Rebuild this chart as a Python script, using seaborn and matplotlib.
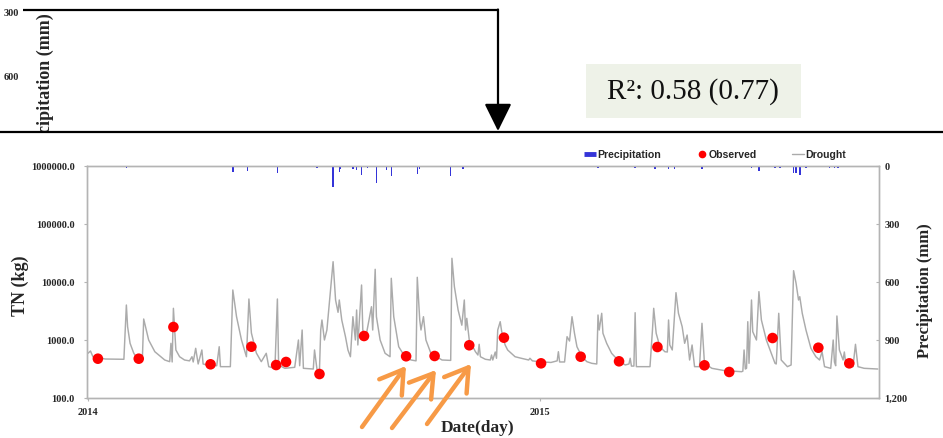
import numpy as np
import pandas as pd
import matplotlib
matplotlib.use("Agg")
import matplotlib.pyplot as plt
import seaborn as sns
from matplotlib.lines import Line2D
from matplotlib.patches import Rectangle
from matplotlib.ticker import FixedLocator, FuncFormatter, NullLocator

sns.set_theme(style="white")
plt.rcParams["font.family"] = ["Liberation Serif", "DejaVu Serif"]
plt.rcParams["font.weight"] = "bold"

START = pd.Timestamp("2014-01-01")

# Simulated TN load under the drought scenario (day offset from 2014-01-01, kg)
sim_day = [0, 2, 4, 14, 29, 31, 32, 34, 37, 39, 42, 44, 45, 49, 54, 62, 66, 67, 68, 69,
           71, 74, 78, 82, 84, 85, 87, 89, 92, 93, 96, 104, 106, 107, 115, 117, 120, 124,
           128, 130, 132, 136, 140, 144, 146, 151, 153, 154, 159, 167, 170, 171, 173, 174,
           182, 183, 185, 187, 188, 189, 191, 193, 198, 200, 202, 203, 205, 208, 210, 212,
           214, 216, 217, 218, 221, 222, 224, 227, 229, 230, 232, 233, 236, 240, 244, 245,
           247, 251, 256, 261, 265, 266, 268, 269, 271, 273, 277, 286, 293, 294, 296, 299,
           302, 304, 305, 306, 308, 313, 315, 316, 317, 321, 325, 326, 327, 329, 330, 331,
           333, 334, 335, 337, 339, 345, 350, 356, 357, 359, 364, 374, 379, 380, 381, 385,
           387, 389, 391, 393, 395, 399, 403, 407, 411, 412, 413, 415, 416, 419, 423, 428,
           434, 437, 438, 439, 441, 442, 443, 454, 456, 457, 459, 462, 466, 468, 469, 470,
           472, 475, 477, 480, 482, 484, 486, 488, 490, 494, 496, 498, 504, 514, 528, 529,
           530, 531, 532, 533, 534, 536, 537, 540, 542, 544, 548, 552, 555, 556, 558, 560,
           565, 568, 570, 572, 574, 575, 577, 580, 584, 588, 591, 593, 595, 600, 602, 603,
           604, 605, 607, 610, 611, 612, 614, 618, 620, 622, 627, 638]
sim_tn = [590, 646, 515, 470, 465, 4010, 1695, 877, 590, 509, 509, 530, 2301, 1000, 628, 452,
          423, 877, 418, 3520, 673, 515, 452, 437, 515, 418, 719, 386, 673, 386, 371, 360, 766,
          347, 347, 7279, 2523, 1000, 515, 5093, 1321, 597, 423, 590, 347, 325, 5093, 371, 325,
          338, 1000, 360, 1487, 325, 316, 673, 310, 308, 1487, 2213, 1000, 1487, 22390, 4894,
          3000, 4894, 2213, 1140, 673, 515, 2523, 1000, 3289, 820, 8874, 1487, 1000, 2213, 3750,
          1487, 16560, 2523, 1000, 590, 515, 11590, 2523, 766, 515, 452, 437, 12050, 2213, 1487,
          2523, 1000, 590, 452, 445, 25620, 8299, 3289, 1800, 4894, 1487, 2366, 1000, 628, 551,
          843, 515, 465, 452, 551, 452, 621, 484, 1487, 2069, 1487, 1140, 820, 673, 515, 484,
          452, 484, 437, 423, 410, 437, 628, 418, 418, 1140, 960, 2523, 1306, 766, 515, 423,
          396, 386, 2698, 1487, 2886, 1306, 877, 590, 452, 371, 386, 484, 355, 355, 2956, 347,
          347, 1487, 3520, 1306, 766, 628, 621, 2213, 820, 673, 6549, 2886, 1695, 877, 1219,
          452, 820, 347, 347, 1940, 396, 325, 297, 284, 290, 673, 316, 325, 2069, 396, 4894,
          1390, 1000, 6814, 2213, 1000, 590, 396, 386, 2886, 452, 347, 371, 15670, 9500, 4894,
          5583, 2886, 1487, 719, 515, 452, 628, 347, 325, 1000, 418, 360, 2594, 673, 452, 621,
          418, 396, 347, 843, 347, 325, 316]

# Observed TN samples (day offset, kg)
obs_day = [8, 41, 69, 99, 132, 152, 160, 187, 223, 257, 280, 308, 336, 366, 398, 429,
           460, 498, 518, 553, 590, 615]
obs_tn = [476, 476, 1675, 381, 766, 370, 418, 259, 1172, 524, 530, 811, 1096, 396, 515,
          429, 757, 366, 281, 1082, 736, 396]

# Daily precipitation (day offset, mm)
rain_day = [18, 31, 38, 66, 72, 80, 90, 97, 105, 117, 129, 145, 153, 171, 175, 180, 185,
            198, 203, 204, 214, 217, 221, 226, 233, 241, 245, 266, 268, 293, 303, 313, 317,
            325, 330, 335, 341, 349, 357, 365, 373, 381, 389, 397, 405, 412, 417, 426, 442,
            446, 458, 463, 469, 474, 482, 496, 510, 531, 533, 536, 542, 555, 559, 570, 572,
            575, 580, 587, 592, 599, 603, 606, 614, 619, 626]
rain_mm = [5, 8, 5, 6, 4, 5, 4, 5, 4, 29, 24, 6, 38, 6, 6, 5, 8,
           108, 31, 15, 14, 19, 47, 10, 86, 22, 52, 40, 15, 52, 14, 5, 4,
           5, 6, 4, 5, 4, 5, 4, 4, 5, 4, 6, 4, 9, 5, 4, 12,
           5, 17, 6, 15, 15, 6, 17, 4, 5, 6, 8, 24, 8, 10, 38, 38,
           47, 8, 6, 7, 8, 10, 9, 6, 5, 5]

tn_ticks = [100, 1000, 10000, 100000, 1000000]
rain_ticks = [0, 300, 600, 900, 1200]
rain_tick_labels = ["0", "300", "600", "900", "1,200"]
year_ticks = ["2014-01-01", "2015-01-01"]
year_labels = ["2014", "2015"]
prev_rain_ticks = ["300", "600"]
prev_rain_title = "cipitation (mm)"
r2_label = "R\u00b2: 0.58 (0.77)"

sim = pd.DataFrame({"date": START + pd.to_timedelta(sim_day, unit="D"), "TN": sim_tn})
obs = pd.DataFrame({"date": START + pd.to_timedelta(obs_day, unit="D"), "TN": obs_tn})
rain = pd.DataFrame({"date": START + pd.to_timedelta(rain_day, unit="D"), "mm": rain_mm})

W, H = 943, 438
fig = plt.figure(figsize=(W / 100, H / 100), dpi=100)
fig.patch.set_facecolor("white")

ax = fig.add_axes([87 / W, 1 - 398 / H, (879 - 87) / W, (398 - 166) / H])
ax.set_facecolor("white")

SPINE = "#b4b4b4"
LINE_GRAY = "#ababab"
RAIN_BLUE = "#3434d8"

sns.lineplot(data=sim, x="date", y="TN", ax=ax, color=LINE_GRAY, lw=1.05, legend=False)
sns.scatterplot(data=obs, x="date", y="TN", ax=ax, color="#ff0000", s=58,
                edgecolor="none", zorder=4, legend=False)

ax.set_yscale("log")
ax.set_ylim(100, 1e6)
ax.yaxis.set_major_locator(FixedLocator(tn_ticks))
ax.yaxis.set_minor_locator(NullLocator())
ax.yaxis.set_major_formatter(FuncFormatter(lambda v, p: f"{v:.1f}"))
ax.set_xlim(START - pd.Timedelta(days=0.8), START + pd.Timedelta(days=639))
ax.set_xticks(pd.to_datetime(year_ticks))
ax.set_xticklabels(year_labels)
ax.set_xlabel("")
ax.set_ylabel("")
ax.tick_params(axis="y", which="major", left=True, length=2.5, width=0.8, color=SPINE,
               direction="out", labelsize=7.5, pad=6.5)
ax.tick_params(axis="x", which="major", bottom=True, length=2.5, width=0.8, color=SPINE,
               direction="out", labelsize=7.5, pad=5)

ax2 = ax.twinx()
ax2.bar(rain["date"], rain["mm"], width=1.2, color=RAIN_BLUE, linewidth=0, align="center")
ax2.set_ylim(1200, 0)
ax2.yaxis.set_major_locator(FixedLocator(rain_ticks))
ax2.set_yticklabels(rain_tick_labels)
ax2.set_ylabel("")
ax2.tick_params(axis="y", which="major", right=True, length=2.5, width=0.8, color=SPINE,
                direction="in", labelsize=7.5, pad=4)
ax2.grid(False)
ax.grid(False)

for a in (ax, ax2):
    for sp in a.spines.values():
        sp.set_color(SPINE)
        sp.set_linewidth(1.0)
        sp.set_visible(True)

# axis titles
fig.text(20 / W, 1 - 286 / H, "TN (kg)", rotation=90, ha="center", va="center",
         fontsize=13, weight="bold")
fig.text(925 / W, 1 - 291 / H, "Precipitation (mm)", rotation=90, ha="center",
         va="center", fontsize=12, weight="bold")
fig.text(478 / W, 1 - 428 / H, "Date(day)", ha="center", va="center",
         fontsize=12.5, weight="bold")

# legend row above the plot
handles = [
    Line2D([], [], color=RAIN_BLUE, lw=3.5, solid_capstyle="butt"),
    Line2D([], [], color="#ff0000", marker="o", markersize=4.5, lw=0),
    Line2D([], [], color=LINE_GRAY, lw=1.0),
]
fig.legend(handles, ["Precipitation", "Observed", "Drought"], loc="center",
           bbox_to_anchor=(715 / W, 1 - 155 / H), ncol=3, frameon=False,
           handlelength=1.1, handletextpad=0.15, columnspacing=3.3,
           prop={"family": "Liberation Sans", "weight": "bold", "size": 7.6})

# overlay in pixel coordinates for the upper panel remnants and callouts
ov = fig.add_axes([0, 0, 1, 1])
ov.set_xlim(0, W)
ov.set_ylim(H, 0)
ov.axis("off")
ov.patch.set_alpha(0)

# the upper panel is cut off just below its axis title
clip = Rectangle((0, 0), W, 131, transform=ov.transData)
t = ov.text(45, 13, prev_rain_title, rotation=90, ha="center", va="top",
            fontsize=13, weight="bold")
t.set_clip_on(True)
t.set_clip_path(clip)
for lab, yy in zip(prev_rain_ticks, [14, 77]):
    ov.text(11, yy, lab, ha="center", va="center", fontsize=7.5, weight="bold")

ov.plot([23, 498], [10, 10], color="black", lw=1.6, solid_capstyle="butt")
ov.annotate("", xy=(498, 131), xytext=(498, 9.5),
            arrowprops=dict(arrowstyle="-|>,head_length=0.85,head_width=0.42",
                            color="black", lw=1.6, shrinkA=0, shrinkB=0,
                            mutation_scale=20))
ov.plot([0, W], [132, 132], color="black", lw=1.6)

ov.add_patch(Rectangle((586, 64), 215, 54, facecolor="#eef2e8", edgecolor="none"))
ov.text(693, 92, r2_label, ha="center", va="center", fontsize=21, weight="normal",
        color="#111111")

ORANGE = "#f79a46"
for (x0, y0), (x1, y1) in [((362, 427), (406, 366)),
                           ((392, 428), (436, 370)),
                           ((427, 424), (471, 364))]:
    ov.annotate("", xy=(x1, y1), xytext=(x0, y0),
                arrowprops=dict(arrowstyle="->,head_length=0.8,head_width=0.5",
                                color=ORANGE, lw=3.2, shrinkA=0, shrinkB=0,
                                mutation_scale=20))

fig.savefig("out.png", dpi=100, facecolor="white")
